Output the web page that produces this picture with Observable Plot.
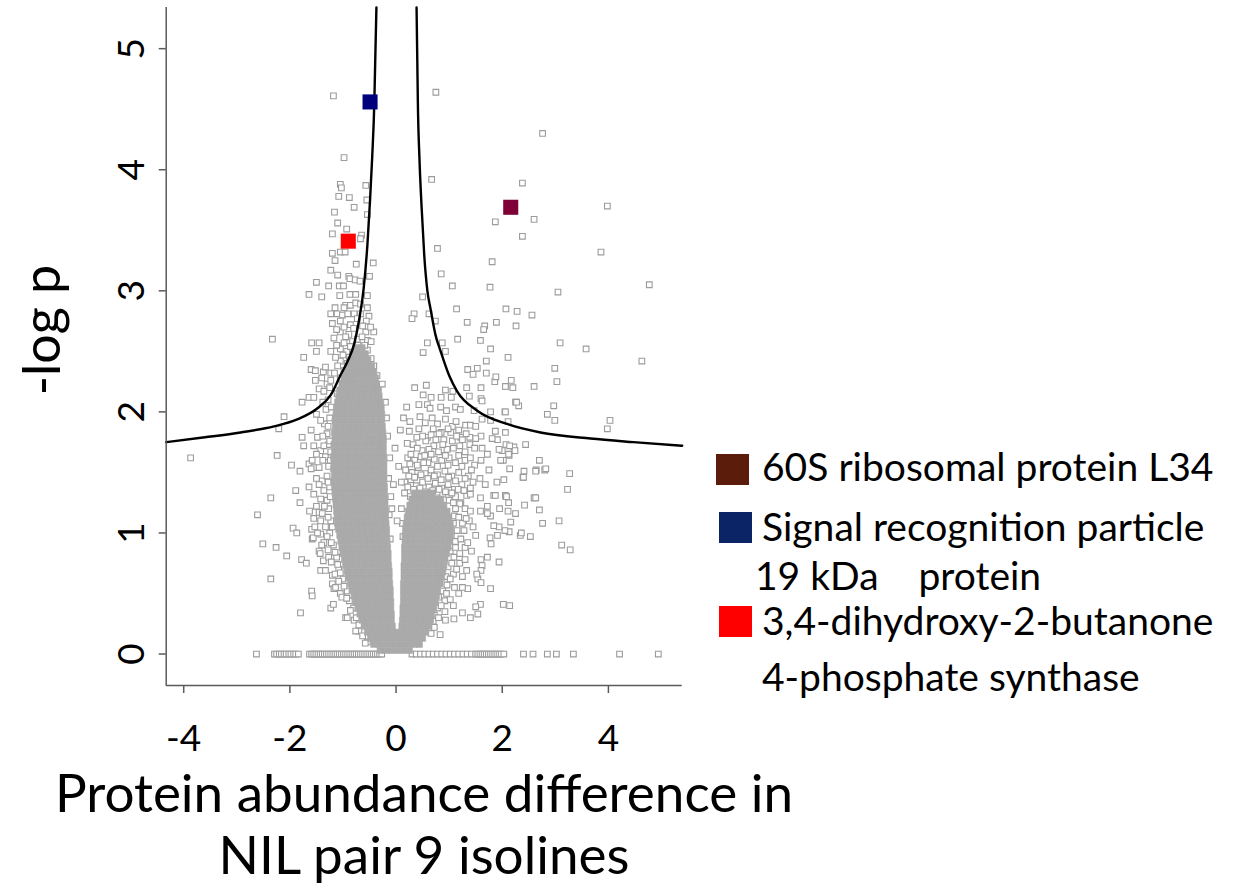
<!DOCTYPE html>
<html><head><meta charset="utf-8">
<script src="https://cdn.jsdelivr.net/npm/d3@7"></script>
<script src="https://cdn.jsdelivr.net/npm/@observablehq/plot@0.6"></script>
<style>
html,body{margin:0;padding:0;background:#fff;}
#wrap{position:relative;width:1235px;height:885px;overflow:hidden;font-family:Lato,"Open Sans",sans-serif;color:#000;}
#chart{position:absolute;left:0;top:0;}
.lab{position:absolute;white-space:pre;line-height:1;}
.sw{position:absolute;width:33px;height:31px;}
</style></head><body><div id="wrap"><div id="chart"></div></div>
<script>
// ---------- data ----------
const xTicks = [-4, -2, 0, 2, 4];
const xTickLabels = ["-4", "-2", "0", "2", "4"];
const yTicks = [0, 1, 2, 3, 4, 5];
const yTickLabels = ["0", "1", "2", "3", "4", "5"];
const xDomain = [-4.33, 5.39];
const yDomain = [-0.26, 5.34];

const highlightNames = ["60S ribosomal protein L34", "Signal recognition particle 19 kDa protein", "3,4-dihydroxy-2-butanone 4-phosphate synthase"];
const highlightX = [2.16, -0.49, -0.90];
const highlightY = [3.69, 4.56, 3.41];
const highlightColors = ["#7e0036", "#00007d", "#ff0000"];
const legendColors = ["#5b1c0b", "#0b2465", "#ff0000"];
const legendLines = [["60S ribosomal protein L34"], ["Signal recognition particle", "19 kDa    protein"], ["3,4-dihydroxy-2-butanone", "4-phosphate synthase"]];

// significance threshold curve
const curveLeft = [[-4.33,1.75],[-3.6,1.79],[-2.93,1.83],[-2.30,1.88],[-1.85,1.94],[-1.48,2.03],[-1.23,2.14],[-1.05,2.30],[-0.90,2.43],[-0.79,2.56],[-0.70,2.75],[-0.61,3.02],[-0.54,3.38],[-0.49,3.75],[-0.45,4.10],[-0.41,4.55],[-0.39,4.95],[-0.37,5.34]];
const curveRight = [[0.386,5.34],[0.40,4.90],[0.41,4.57],[0.44,4.10],[0.48,3.70],[0.53,3.30],[0.59,3.00],[0.65,2.85],[0.74,2.64],[0.84,2.50],[1.00,2.30],[1.15,2.17],[1.53,2.01],[2.09,1.90],[2.72,1.83],[3.66,1.78],[4.47,1.75],[5.39,1.72]];

// individual proteins (hollow squares)
const scatterPts = [
[-1.18,4.61],[0.75,4.64],[-0.98,4.10],[0.67,3.92],[-1.05,3.88],[-1.03,3.85],[-0.57,3.87],[-1.08,3.78],[-0.88,3.77],[-0.55,3.75],[-0.79,3.69],[-1.16,3.65],[-0.54,3.63],[-1.10,3.56],[-0.93,3.51],[-1.20,3.47],[-0.65,3.46],[-0.67,3.43],[0.78,3.35],[-1.20,3.31],[-1.05,3.32],[-0.96,3.32],[-1.15,3.25],[-0.75,3.22],[-0.43,3.23],[0.85,3.14],[-1.23,3.17],[-1.10,3.13],[-0.89,3.12],[-0.87,3.10],[-0.77,3.09],[-0.68,3.08],[-0.50,3.12],[-1.50,3.07],[-1.27,3.04],[-1.07,3.04],[-0.99,3.04],[-1.64,2.97],[-1.40,2.95],[-1.06,2.96],[-0.87,2.97],[-0.76,2.97],[-0.54,2.96],[0.50,2.95],
[0.34,2.81],[0.30,2.77],[0.62,2.81],[0.74,2.75],[-2.33,2.60],[-1.59,2.57],[-1.45,2.57],[0.59,2.57],[0.87,2.57],
[2.76,4.30],[2.38,3.89],[3.98,3.70],[2.60,3.59],[1.87,3.57],[2.38,3.45],[3.86,3.32],[1.81,3.24],[1.06,3.04],[1.77,3.03],[3.05,2.99],[4.77,3.05],[1.14,2.85],[2.07,2.85],[2.28,2.83],[2.56,2.80],[1.34,2.74],[1.67,2.71],[1.65,2.68],[1.89,2.74],[2.26,2.71],[1.16,2.60],[1.59,2.59],[3.09,2.57],[3.58,2.52],[1.78,2.52],[0.51,2.49],[0.93,2.50],[4.63,2.42],[2.11,2.45],[1.70,2.42],[2.99,2.36],[3.03,2.25],[2.07,2.21],[2.17,2.26],[2.20,2.20],[2.60,2.21],[2.25,2.08],[2.31,2.05],[2.05,2.00],[2.97,2.05],[2.85,1.98],[2.99,1.93],[4.03,1.93],[3.98,1.86],[2.11,1.92],[2.07,1.73],[2.22,1.71],[2.24,1.68],[2.44,1.73],[2.00,1.68],[2.13,1.64],[2.02,1.60],[2.70,1.60],[2.14,1.53],[2.41,1.51],[2.39,1.46],[2.64,1.52],[2.80,1.52],[3.27,1.49],[2.03,1.44],[3.23,1.36],[2.07,1.30],[2.61,1.29],
[1.35,2.35],[1.45,2.31],[1.53,2.36],[1.70,2.32],[1.86,2.25],[1.88,2.29],[2.06,2.21],[0.57,2.22],[0.35,2.20],[0.51,2.14],[0.93,2.18],[1.07,2.17],[1.33,2.20],[1.60,2.20],[0.66,2.12],[0.85,2.12],[1.04,2.12],[1.38,2.13],[1.60,2.11],[1.62,2.09],[0.20,2.04],[0.43,2.06],[0.59,2.06],[0.64,2.03],[0.84,2.04],[0.95,2.01],[1.12,2.04],[1.21,2.02],[1.47,2.01],[1.78,2.00],[2.06,2.00],[2.27,2.08],[0.68,1.95],[0.78,1.90],[0.93,1.94],[1.06,1.88],[1.13,1.92],[1.31,1.89],[1.40,1.89],[1.62,1.94],[1.78,1.93],[1.87,1.84],[2.06,1.83],[1.91,1.77],[2.14,1.72],[0.39,1.79],[0.59,1.79],[0.85,1.83],[1.03,1.83],[1.22,1.79],[1.39,1.79],[1.60,1.80],[1.81,1.78],[2.12,1.65],[1.72,1.65],[1.97,1.60],[2.63,1.51],[2.82,1.53],[2.40,1.46],[2.60,1.29],[2.06,1.31],[1.84,1.31],[1.59,1.29],[1.40,1.37],
[0.32,1.73],[0.49,1.68],[0.71,1.72],[0.96,1.69],[1.20,1.72],[1.39,1.73],[1.62,1.70],[1.94,1.69],[0.56,1.76],[1.06,1.76],[1.25,1.77],[1.50,1.78],[0.81,1.82],
[0.22,1.62],[0.35,1.60],[0.47,1.63],[0.60,1.58],[0.72,1.61],[0.86,1.60],[1.00,1.62],[1.12,1.58],[1.30,1.60],[1.48,1.56],
[0.18,1.52],[0.30,1.50],[0.42,1.54],[0.55,1.49],[0.66,1.52],[0.78,1.48],[0.92,1.51],[1.05,1.47],[1.18,1.50],[1.36,1.47],[1.58,1.45],[1.75,1.52],
[0.17,1.42],[0.28,1.44],[0.38,1.39],[0.50,1.42],[0.62,1.38],[0.74,1.41],[0.86,1.37],[0.98,1.40],[1.10,1.36],[1.24,1.40],[1.45,1.42],[1.68,1.40],[1.90,1.42],
[0.16,1.33],[0.27,1.30],[0.40,1.32],[0.52,1.28],[0.64,1.31],[0.76,1.29],[0.88,1.32],[1.00,1.27],[1.12,1.30],[1.22,1.25],[1.33,1.31],[1.72,1.22],[1.95,1.20],
[0.14,1.95],[0.26,1.92],[0.45,1.96],[0.55,1.91],[0.70,1.86],[0.98,1.86],[1.18,1.85],[1.50,1.88],[0.25,1.84],[0.43,1.86],[0.50,1.80],[0.66,1.81],[0.75,1.77],[0.90,1.77],[1.14,1.80],[1.32,1.82],
[0.21,1.74],[0.40,1.70],[0.62,1.69],[0.80,1.67],[0.88,1.73],[1.08,1.70],[1.30,1.67],[1.48,1.70],[0.28,1.65],[0.54,1.64],[0.66,1.65],[0.93,1.64],[1.18,1.64],[1.40,1.62],[1.60,1.60],
[0.26,1.57],[0.40,1.56],[0.52,1.58],[0.78,1.55],[0.98,1.56],[1.24,1.55],[1.42,1.52],[0.24,1.47],[0.35,1.46],[0.47,1.48],[0.60,1.45],[0.72,1.47],[0.85,1.44],[0.99,1.46],[1.12,1.43],[1.30,1.45],
[0.22,1.38],[0.33,1.36],[0.45,1.37],[0.56,1.34],[0.69,1.35],[0.81,1.36],[0.93,1.34],[1.05,1.33],[1.17,1.36],[1.28,1.35],[1.40,1.32],
[1.08,1.25],[1.20,1.24],[1.30,1.20],[1.40,1.18],[1.10,1.14],[1.38,1.10],[1.08,1.08],[1.28,1.02],[1.04,0.97],[1.12,0.93],[1.30,0.88],[1.02,0.85],[1.09,0.80],[1.20,0.75],[0.98,0.72],[1.08,0.66],[0.94,0.64],[0.96,0.57],[1.18,0.50],[0.88,0.52],[0.92,0.44],[0.80,0.47],[0.78,0.38],[0.72,0.32],[0.70,0.27],[0.66,0.17],
[0.10,1.20],[0.12,1.08],[0.13,0.97],[-0.05,1.40],[0.05,1.55],[-0.02,1.70],[0.08,1.85],[0.10,1.42],[-0.08,1.20],[0.02,1.10],
[1.12,1.20],[1.18,1.13],[1.25,1.08],[1.32,1.12],[1.45,1.05],[1.15,1.02],[1.22,0.95],[1.35,0.92],[1.50,0.98],[1.12,0.88],[1.20,0.83],[1.30,0.78],[1.42,0.85],[1.05,0.75],[1.14,0.70],[1.25,0.64],[1.02,0.62],[1.10,0.55],[0.95,0.50],[1.02,0.45],[0.85,0.40],[0.92,0.35],[0.80,0.30],[0.72,0.22],[0.83,0.16],
[1.87,1.31],[2.08,1.30],[2.12,1.25],[2.63,1.29],[2.42,1.23],[2.70,1.19],[2.25,1.16],[2.11,1.18],[2.76,1.08],[3.07,1.10],[3.12,0.90],[3.28,0.86],[2.53,0.97],[2.34,0.98],[2.36,1.00],[2.13,1.01],[2.05,1.02],[1.94,1.05],[1.84,1.06],[2.16,1.09],[1.78,1.14],[1.72,1.16],[1.59,1.18],[1.91,0.98],[1.77,0.96],[1.79,0.91],[1.94,0.76],[1.72,0.80],[1.60,0.78],[1.62,0.73],[1.60,0.69],[1.54,0.62],[1.60,0.59],[1.78,0.54],[1.35,0.54],[1.25,0.55],[1.33,0.69],[1.52,0.66],[1.59,0.41],[1.50,0.39],[1.54,0.33],[1.40,0.30],[1.25,0.34],[1.09,0.29],[2.02,0.41],[2.14,0.40],[1.08,0.40],[0.93,0.28],
[-1.74,2.45],[-1.50,2.50],[-1.23,2.50],[-1.11,2.55],[-1.60,2.35],[-1.52,2.34],[-1.37,2.33],[-1.23,2.32],[-1.45,2.19],[-1.30,2.23],[-1.77,2.08],[-1.64,2.12],[-2.11,1.96],[-2.21,1.86],[-1.77,1.79],[-1.74,1.72],[-3.87,1.62],[-2.24,1.64],[-1.97,1.56],[-1.81,1.51],[-1.64,1.57],[-1.55,1.54],[-1.89,1.35],[-1.81,1.25],[-1.64,1.38],[-2.36,1.29],[-2.61,1.15],[-1.63,1.18],[-1.45,1.17],[-1.94,1.04],[-1.87,1.00],[-1.59,1.03],[-1.58,0.95],[-1.42,0.99],[-2.51,0.91],[-2.26,0.88],[-2.06,0.81],[-1.78,0.78],[-1.69,0.75],[-1.45,0.85],[-1.37,0.77],[-1.42,0.69],[-2.36,0.62],[-1.59,0.52],[-1.58,0.48],[-1.20,0.58],[-1.17,0.54],[-1.23,0.38],[-1.80,0.34],[-0.95,0.30],[-0.79,0.28],[-0.70,0.19],[-0.54,0.10],
[-1.58,1.60],[-1.60,1.53],[-1.53,1.05],[-1.56,0.96],[-1.36,0.92],[-1.43,0.83],[-1.27,0.80],[-1.33,0.69],[-1.20,0.65],[-1.14,0.55],[-1.05,0.50],[-1.18,0.41],[-0.92,0.30],[-0.76,0.19],
[-1.48,1.79],[-1.42,1.68],[-1.45,1.54],[-1.39,1.43],[-1.36,1.35],[-1.30,1.27],[-1.39,1.16],
[-1.28,2.10],[-1.32,2.02],[-1.25,1.95],[-1.35,1.90],[-1.30,1.82],[-1.27,1.73],[-1.33,1.63],[-1.27,1.55],[-1.30,1.47],[-1.25,1.38],[-1.27,1.20],[-1.23,1.10],[-1.25,1.00],[-1.18,0.90],[-1.12,0.80],[-1.08,0.70],[-1.00,0.62],[-0.92,0.52],[-0.88,0.44],[-0.80,0.38],
[-1.52,2.26],[-1.40,2.28],[-1.25,2.20],[-1.55,2.12],[-1.38,2.08],[-1.22,2.04],[-1.50,1.98],[-1.42,1.93],[-1.28,1.88],[-1.60,1.85],[-1.38,1.80],[-1.25,1.76],[-1.55,1.72],[-1.36,1.72],[-1.23,1.67],[-1.50,1.65],[-1.38,1.60],[-1.24,1.60],[-1.50,1.45],[-1.45,1.40],[-1.28,1.42],[-1.55,1.32],[-1.42,1.28],[-1.24,1.30],[-1.50,1.22],[-1.35,1.22],[-1.55,1.12],[-1.42,1.10],[-1.28,1.13],[-1.33,1.05],[-1.48,1.00],[-1.20,1.05],[-1.30,0.97],[-1.40,0.90],[-1.22,0.92],[-1.28,0.86],[-1.15,0.84],[-1.22,0.76],[-1.10,0.74],[-1.15,0.66],[-1.05,0.67],[-1.08,0.60],[-0.98,0.56],[-1.02,0.47],[-0.93,0.46],[-0.86,0.36],[-0.75,0.30],[-0.70,0.24],[-0.63,0.15],[-0.58,0.09],
[-0.95,2.88],[-0.86,2.88],[-0.76,2.90],[-0.67,2.89],[-1.15,2.86],[-0.98,2.86],[-0.54,2.86],[-1.23,2.81],[-1.11,2.81],[-1.01,2.80],[-0.91,2.81],[-0.79,2.81],[-0.67,2.81],[-0.51,2.79],[-1.20,2.73],[-1.05,2.75],[-0.86,2.72],[-0.73,2.77],[-0.56,2.75],[-0.57,2.66],[-0.42,2.66],[-1.17,2.61],[-1.05,2.66],[-0.89,2.64],[-0.73,2.60],[-0.54,2.59],[-1.05,2.52],[-0.93,2.50],[-0.79,2.51],[-0.66,2.50],[-0.54,2.51],[-1.33,2.37],[-1.05,2.42],[-0.98,2.34],[-0.79,2.39],[-0.67,2.34],[-0.51,2.37],[-0.42,2.38],[-1.23,2.26],[-1.05,2.28],[-0.86,2.26],[-0.67,2.23],[-0.51,2.26],[-0.35,2.22],[-0.26,2.23],[-1.36,2.17],[-1.11,2.15],[-0.86,2.15],[-0.67,2.18],[-0.42,2.19],
[-0.98,2.70],[-0.80,2.69],[-0.63,2.71],[-0.48,2.70],[-1.12,2.68],[-0.95,2.62],[-0.82,2.58],[-0.64,2.62],[-0.47,2.58],[-1.12,2.55],[-0.98,2.57],[-0.86,2.54],[-0.72,2.55],[-0.59,2.55],[-1.14,2.45],[-1.00,2.47],[-0.88,2.45],[-0.74,2.46],[-0.60,2.45],[-0.47,2.44],[-1.10,2.38],[-0.92,2.40],[-0.72,2.41],[-0.58,2.39],[-1.16,2.32],[-0.90,2.32],[-0.80,2.33],[-0.62,2.30],[-0.45,2.31],[-0.36,2.30],
[-0.14,1.45],[-0.12,1.62],[-0.16,1.80],[-0.10,1.30],[-0.13,1.15],[-0.18,1.95],[-0.20,2.08],[-0.11,0.95]
];

// proteins with p = 1 (-log p = 0)
const zeroRowX = [-2.63,-2.29,-2.25,-2.20,-2.16,-2.11,-2.07,-2.02,-1.98,-1.93,-1.89,-1.84,-1.63,-1.59,-1.55,-1.51,-1.47,-1.43,-1.39,-1.35,-1.31,-1.27,-1.23,-1.19,-1.15,-1.11,-1.07,-1.03,-0.99,-0.95,-0.91,-0.87,-0.83,-0.79,-0.75,-0.71,-0.67,-0.63,-0.59,-0.55,-0.51,-0.47,-0.43,-0.39,-0.35,-0.31,-0.27,0.30,0.38,0.46,0.54,0.62,0.70,0.78,0.86,0.94,1.02,1.10,1.18,1.26,1.34,1.42,1.50,1.54,1.58,1.62,1.66,1.70,1.74,1.78,1.82,1.86,1.90,1.94,1.98,2.03,2.40,2.58,2.85,3.02,3.34,4.21,4.94];

// heavily overplotted proteins in the two arms (read row by row)
const coreRows = [
[0.03,[-0.30,-0.19,-0.08,0.03,0.14,0.25]],
[0.08,[-0.42,-0.31,-0.20,-0.09,0.02,0.13,0.24,0.35,0.44]],
[0.13,[-0.48,-0.37,-0.26,-0.15,-0.04,0.07,0.18,0.29,0.40,0.50]],
[0.18,[-0.54,-0.43,-0.32,-0.21,-0.10,0.01,0.12,0.23,0.34,0.45,0.56]],
[0.23,[-0.60,-0.49,-0.38,-0.27,-0.16,-0.07,0.11,0.22,0.33,0.44,0.55,0.62]],
[0.28,[-0.64,-0.53,-0.42,-0.31,-0.20,-0.09,0.12,0.23,0.34,0.45,0.56,0.65]],
[0.33,[-0.68,-0.57,-0.46,-0.35,-0.24,-0.13,-0.09,0.13,0.24,0.35,0.46,0.57,0.67]],
[0.38,[-0.72,-0.61,-0.50,-0.39,-0.28,-0.17,-0.10,0.13,0.24,0.35,0.46,0.57,0.68,0.71]],
[0.43,[-0.76,-0.65,-0.54,-0.43,-0.32,-0.21,-0.10,0.14,0.25,0.36,0.47,0.58,0.69,0.74]],
[0.48,[-0.79,-0.68,-0.57,-0.46,-0.35,-0.24,-0.13,-0.11,0.14,0.25,0.36,0.47,0.58,0.69,0.76]],
[0.53,[-0.83,-0.72,-0.61,-0.50,-0.39,-0.28,-0.17,-0.11,0.14,0.25,0.36,0.47,0.58,0.69,0.78]],
[0.58,[-0.86,-0.75,-0.64,-0.53,-0.42,-0.31,-0.20,-0.12,0.14,0.25,0.36,0.47,0.58,0.69,0.80,0.83]],
[0.63,[-0.90,-0.79,-0.68,-0.57,-0.46,-0.35,-0.24,-0.13,0.15,0.26,0.37,0.48,0.59,0.70,0.81,0.86]],
[0.68,[-0.92,-0.81,-0.70,-0.59,-0.48,-0.37,-0.26,-0.15,-0.13,0.15,0.26,0.37,0.48,0.59,0.70,0.81,0.88]],
[0.73,[-0.95,-0.84,-0.73,-0.62,-0.51,-0.40,-0.29,-0.18,-0.14,0.15,0.26,0.37,0.48,0.59,0.70,0.81,0.90]],
[0.78,[-0.97,-0.86,-0.75,-0.64,-0.53,-0.42,-0.31,-0.20,-0.15,0.16,0.27,0.38,0.49,0.60,0.71,0.82,0.92]],
[0.83,[-1.00,-0.89,-0.78,-0.67,-0.56,-0.45,-0.34,-0.23,-0.15,0.16,0.27,0.38,0.49,0.60,0.71,0.82,0.93,0.95]],
[0.88,[-1.02,-0.91,-0.80,-0.69,-0.58,-0.47,-0.36,-0.25,-0.16,0.16,0.27,0.38,0.49,0.60,0.71,0.82,0.93,0.98]],
[0.93,[-1.04,-0.93,-0.82,-0.71,-0.60,-0.49,-0.38,-0.27,-0.17,0.17,0.28,0.39,0.50,0.61,0.72,0.83,0.94,1.00]],
[0.98,[-1.06,-0.95,-0.84,-0.73,-0.62,-0.51,-0.40,-0.29,-0.18,0.17,0.28,0.39,0.50,0.61,0.72,0.83,0.94,1.02]],
[1.03,[-1.08,-0.97,-0.86,-0.75,-0.64,-0.53,-0.42,-0.31,-0.20,-0.18,0.18,0.29,0.40,0.51,0.62,0.73,0.84,0.95,1.03]],
[1.08,[-1.10,-0.99,-0.88,-0.77,-0.66,-0.55,-0.44,-0.33,-0.22,-0.19,0.19,0.30,0.41,0.52,0.63,0.74,0.85,0.96,1.02]],
[1.13,[-1.11,-1.00,-0.89,-0.78,-0.67,-0.56,-0.45,-0.34,-0.23,-0.20,0.21,0.32,0.43,0.54,0.65,0.76,0.87,0.98]],
[1.18,[-1.12,-1.01,-0.90,-0.79,-0.68,-0.57,-0.46,-0.35,-0.24,-0.20,0.23,0.34,0.45,0.56,0.67,0.78,0.89,0.96]],
[1.23,[-1.13,-1.02,-0.91,-0.80,-0.69,-0.58,-0.47,-0.36,-0.25,-0.21,0.26,0.37,0.48,0.59,0.70,0.81,0.90]],
[1.28,[-1.14,-1.03,-0.92,-0.81,-0.70,-0.59,-0.48,-0.37,-0.26,-0.21,0.30,0.41,0.52,0.63,0.74,0.84]],
[1.33,[-1.15,-1.04,-0.93,-0.82,-0.71,-0.60,-0.49,-0.38,-0.27,-0.22,0.35,0.46,0.57,0.68]],
[1.38,[-1.16,-1.05,-0.94,-0.83,-0.72,-0.61,-0.50,-0.39,-0.28,-0.22]],
[1.43,[-1.17,-1.06,-0.95,-0.84,-0.73,-0.62,-0.51,-0.40,-0.29,-0.23]],
[1.48,[-1.16,-1.05,-0.94,-0.83,-0.72,-0.61,-0.50,-0.39,-0.28,-0.23]],
[1.53,[-1.18,-1.07,-0.96,-0.85,-0.74,-0.63,-0.52,-0.41,-0.30,-0.23]],
[1.58,[-1.17,-1.06,-0.95,-0.84,-0.73,-0.62,-0.51,-0.40,-0.29,-0.23]],
[1.63,[-1.18,-1.07,-0.96,-0.85,-0.74,-0.63,-0.52,-0.41,-0.30,-0.24]],
[1.68,[-1.16,-1.05,-0.94,-0.83,-0.72,-0.61,-0.50,-0.39,-0.28,-0.24]],
[1.73,[-1.17,-1.06,-0.95,-0.84,-0.73,-0.62,-0.51,-0.40,-0.29,-0.24]],
[1.78,[-1.15,-1.04,-0.93,-0.82,-0.71,-0.60,-0.49,-0.38,-0.27,-0.24]],
[1.83,[-1.16,-1.05,-0.94,-0.83,-0.72,-0.61,-0.50,-0.39,-0.28,-0.25]],
[1.88,[-1.14,-1.03,-0.92,-0.81,-0.70,-0.59,-0.48,-0.37,-0.26]],
[1.93,[-1.15,-1.04,-0.93,-0.82,-0.71,-0.60,-0.49,-0.38,-0.27]],
[1.98,[-1.13,-1.02,-0.91,-0.80,-0.69,-0.58,-0.47,-0.36,-0.27]],
[2.03,[-1.12,-1.01,-0.90,-0.79,-0.68,-0.57,-0.46,-0.35,-0.28]],
[2.08,[-1.10,-0.99,-0.88,-0.77,-0.66,-0.55,-0.44,-0.33,-0.29]],
[2.13,[-1.08,-0.97,-0.86,-0.75,-0.64,-0.53,-0.42,-0.32]],
[2.18,[-1.06,-0.95,-0.84,-0.73,-0.62,-0.51,-0.40,-0.33]],
[2.23,[-1.02,-0.91,-0.80,-0.69,-0.58,-0.47,-0.37]],
[2.28,[-0.98,-0.87,-0.76,-0.65,-0.54,-0.43,-0.39]],
[2.33,[-0.94,-0.83,-0.72,-0.61,-0.50,-0.42]],
[2.38,[-0.90,-0.79,-0.68,-0.57,-0.46]],
[2.43,[-0.86,-0.75,-0.64,-0.53]],
[2.48,[-0.80,-0.69,-0.58]],
[2.53,[-0.75,-0.64]]
];

// ---------- tables ----------
const points = scatterPts.map(([x, y]) => ({x, y})).concat(zeroRowX.map(x => ({x, y: 0})));
const core = coreRows.flatMap(([y, xs]) => xs.map(x => ({x, y})));
const yTickData = yTicks.map((v, i) => ({v, label: yTickLabels[i]}));
const FONT = "Lato, 'Open Sans', sans-serif";

const chart = Plot.plot({
  width: 700, height: 770,
  marginLeft: 165.7, marginRight: 18.3, marginTop: 7, marginBottom: 85,
  x: {domain: xDomain},
  y: {domain: yDomain},
  style: {fontFamily: FONT, color: "#000", background: "transparent", overflow: "visible"},
  marks: [
    Plot.dot(points, {x: "x", y: "y", symbol: "square", r: 3.2, stroke: "#9c9c9c", strokeWidth: 1.1, fill: "white"}),
    Plot.dot(core, {x: "x", y: "y", symbol: "square", r: 3.45, fill: "#aaaaaa", stroke: "#aaaaaa", strokeWidth: 0.6}),
    Plot.line(curveLeft, {x: d => d[0], y: d => d[1], stroke: "#000", strokeWidth: 2.4, curve: "monotone-x"}),
    Plot.line(curveRight, {x: d => d[0], y: d => d[1], stroke: "#000", strokeWidth: 2.4, curve: "monotone-x"}),
    ...highlightX.map((x, i) => Plot.dot([{x, y: highlightY[i]}], {x: "x", y: "y", symbol: "square", r: 8.5, fill: highlightColors[i]})),
    Plot.ruleX([xDomain[0]], {stroke: "#5a5a5a", strokeWidth: 1.5}),
    Plot.ruleY([yDomain[0]], {stroke: "#5a5a5a", strokeWidth: 1.5}),
    Plot.axisX({ticks: xTicks, tickSize: 8, tickPadding: 31, fontSize: 37, fontFamily: FONT, stroke: "#5a5a5a", strokeWidth: 1.5, label: null, tickFormat: d => xTickLabels[xTicks.indexOf(d)]}),
    Plot.axisY({ticks: yTicks, tickSize: 7, stroke: "#5a5a5a", strokeWidth: 1.5, label: null, tickFormat: () => ""}),
    Plot.text(yTickData, {x: () => xDomain[0], y: "v", text: "label", rotate: -90, dx: -34, fontSize: 37, fontFamily: FONT, textAnchor: "middle", lineAnchor: "middle", fill: "#000"})
  ]
});
document.getElementById("chart").appendChild(chart);

// ---------- labels & legend ----------
const wrap = document.getElementById("wrap");
function addText(txt, size, left, baseline, extra) {
  const d = document.createElement("div");
  d.className = "lab";
  d.textContent = txt;
  d.style.fontSize = size + "px";
  d.style.left = left + "px";
  d.style.top = (baseline - 0.887 * size) + "px";
  if (extra) Object.assign(d.style, extra);
  wrap.appendChild(d);
  return d;
}
// x label (two centred lines)
const xLabelLines = ["Protein abundance difference in", "NIL pair 9 isolines"];
[812, 874].forEach((b, i) => addText(xLabelLines[i], 53, 0, b, {width: "848px", textAlign: "center"}));
// y label
const yl = document.createElement("div");
yl.className = "lab";
yl.textContent = "-log p";
Object.assign(yl.style, {fontSize: "52px", left: "40px", top: "330px", transform: "translate(-50%,-50%) rotate(-90deg)"});
wrap.appendChild(yl);

// legend
const swTops = [454, 512, 606];
const swLefts = [716, 719, 719];
const lineBase = [[482], [542, 591], [636, 692]];
const lineLeft = [[762], [762, 755], [762, 762]];
legendLines.forEach((lines, i) => {
  const s = document.createElement("div");
  s.className = "sw";
  s.style.left = swLefts[i] + "px";
  s.style.top = swTops[i] + "px";
  s.style.background = legendColors[i];
  s.title = highlightNames[i];
  wrap.appendChild(s);
  lines.forEach((t, j) => addText(t, 39, lineLeft[i][j], lineBase[i][j]));
});
</script></body></html>
